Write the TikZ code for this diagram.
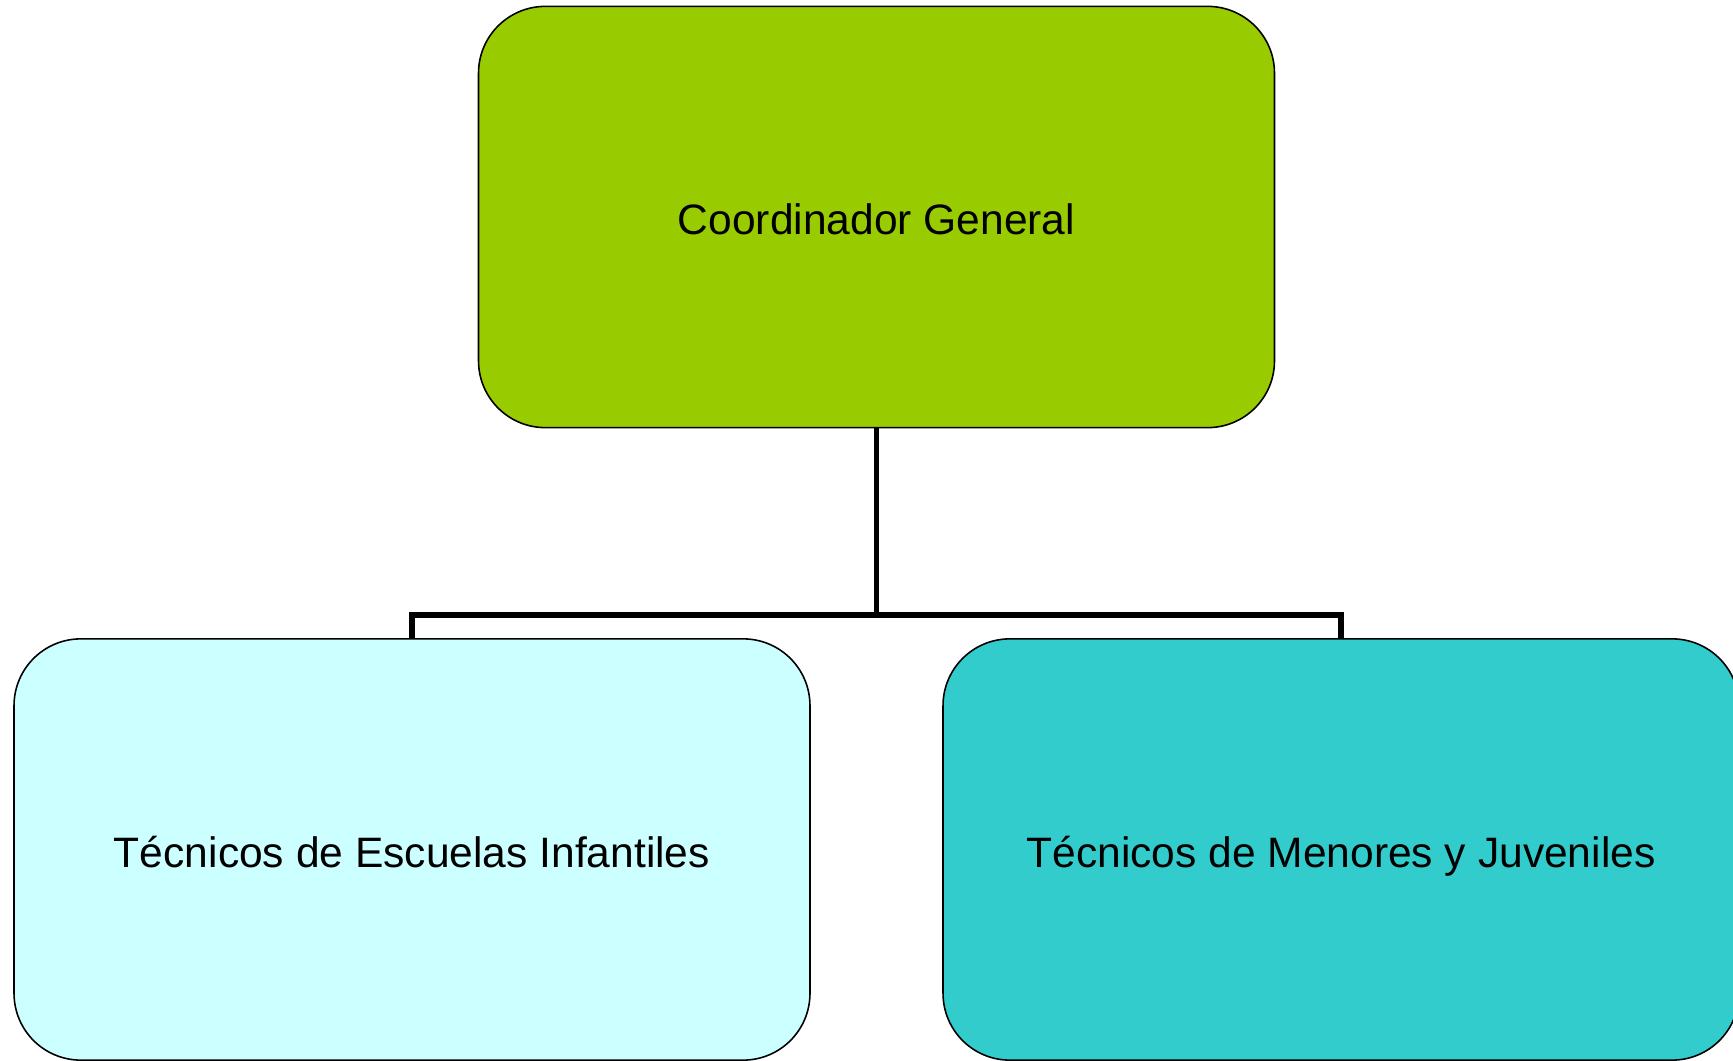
\documentclass[tikz,border=0pt]{standalone}
\usepackage{fontspec}
\setmainfont{Liberation Sans}
\definecolor{cgreen}{HTML}{99CC00}
\definecolor{ccyan}{HTML}{CCFFFF}
\definecolor{cteal}{HTML}{33CCCC}
\begin{document}
\begin{tikzpicture}[x=0.01cm,y=-0.01cm,
  box/.style={draw=black,line width=0.45pt,rounded corners=19pt,rectangle,
    minimum width=7.955cm,minimum height=4.21cm,inner sep=0pt,
    text height=10pt,text depth=0pt,
    font=\fontsize{12.1}{14}\selectfont},
  link/.style={draw=black,line width=1.55pt}]
\useasboundingbox (0,0) rectangle (1733,1061);
\node[box,fill=cgreen] (top) at (876.5,217) {Coordinador General};
\node[box,fill=ccyan] (left) at (412,849.5) {Técnicos de Escuelas Infantiles};
\node[box,fill=cteal] (right) at (1341,849.5) {Técnicos de Menores y Juveniles};
\coordinate (bus) at (876.5,615);
\draw[link] (top.south) -- (bus);
\draw[link] (left.north) |- (bus) -| (right.north);
\end{tikzpicture}
\end{document}
